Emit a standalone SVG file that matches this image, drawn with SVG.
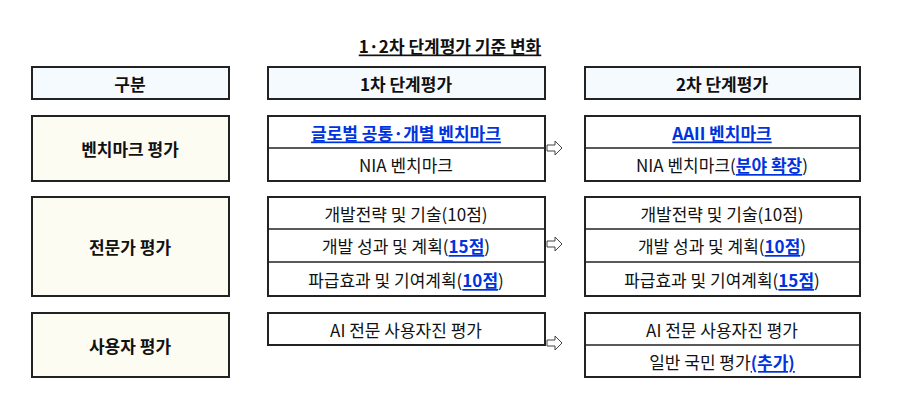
<svg xmlns="http://www.w3.org/2000/svg" width="900" height="413" viewBox="0 0 900 413">
<style>
text{font-family:"Noto Sans CJK KR","Noto Sans",sans-serif;font-size:17px;text-anchor:middle;dominant-baseline:central;fill:#111}
.b{font-weight:bold}
.l{fill:#0033dd;font-weight:bold;text-decoration:underline}
.box{fill:#fff;stroke:#222;stroke-width:2}
.hd{fill:#f5fafe;stroke:#222;stroke-width:2}
.cat{fill:#fdfcf3;stroke:#222;stroke-width:2}
.ln{stroke:#222;stroke-width:1.5}
.ar{fill:#fff;stroke:#444;stroke-width:1}
</style>
<rect width="900" height="413" fill="#fff"/>
<text x="450" y="45" class="b" font-size="19" style="text-decoration:underline">1·2차 단계평가 기준 변화</text>
<g id="header">
<rect class="hd" x="32" y="67" width="197" height="32"/><text x="130" y="83" class="b">구분</text>
<rect class="hd" x="268" y="67" width="277" height="32"/><text x="406" y="83" class="b">1차 단계평가</text>
<rect class="hd" x="585" y="67" width="275" height="32"/><text x="722" y="83" class="b">2차 단계평가</text>
</g>
<g id="bench">
<rect class="cat" x="32" y="116" width="197" height="65"/><text x="130" y="148" class="b">벤치마크 평가</text>
<rect class="box" x="268" y="116" width="277" height="65"/><line class="ln" x1="268" y1="148" x2="545" y2="148"/>
<text x="406" y="132" class="l">글로벌 공통·개별 벤치마크</text><text x="406" y="164">NIA 벤치마크</text>
<rect class="box" x="585" y="116" width="275" height="65"/><line class="ln" x1="585" y1="148" x2="860" y2="148"/>
<text x="722" y="132" class="l">AAII 벤치마크</text><text x="722" y="164">NIA 벤치마크(<tspan class="l">분야 확장</tspan>)</text>
</g>
<g id="expert">
<rect class="cat" x="32" y="197" width="197" height="99"/><text x="130" y="246" class="b">전문가 평가</text>
<rect class="box" x="268" y="197" width="277" height="99"/><line class="ln" x1="268" y1="229" x2="545" y2="229"/><line class="ln" x1="268" y1="262" x2="545" y2="262"/>
<text x="406" y="213">개발전략 및 기술(10점)</text><text x="406" y="245">개발 성과 및 계획(<tspan class="l">15점</tspan>)</text><text x="406" y="279">파급효과 및 기여계획(<tspan class="l">10점</tspan>)</text>
<rect class="box" x="585" y="197" width="275" height="99"/><line class="ln" x1="585" y1="229" x2="860" y2="229"/><line class="ln" x1="585" y1="262" x2="860" y2="262"/>
<text x="722" y="213">개발전략 및 기술(10점)</text><text x="722" y="245">개발 성과 및 계획(<tspan class="l">10점</tspan>)</text><text x="722" y="279">파급효과 및 기여계획(<tspan class="l">15점</tspan>)</text>
</g>
<g id="user">
<rect class="cat" x="32" y="313" width="197" height="64"/><text x="130" y="345" class="b">사용자 평가</text>
<rect class="box" x="268" y="313" width="277" height="32"/><text x="406" y="329">AI 전문 사용자진 평가</text>
<rect class="box" x="585" y="313" width="275" height="64"/><line class="ln" x1="585" y1="345" x2="860" y2="345"/>
<text x="722" y="329">AI 전문 사용자진 평가</text><text x="722" y="361">일반 국민 평가<tspan class="l">(추가)</tspan></text>
</g>
<g id="connectors">
<path class="ar" d="M547,145 h8 v-4 l7,7 l-7,7 v-4 h-8 z"/>
<path class="ar" d="M547,241 h8 v-4 l7,7 l-7,7 v-4 h-8 z"/>
<path class="ar" d="M547,340 h8 v-4 l7,7 l-7,7 v-4 h-8 z"/>
</g>
</svg>
